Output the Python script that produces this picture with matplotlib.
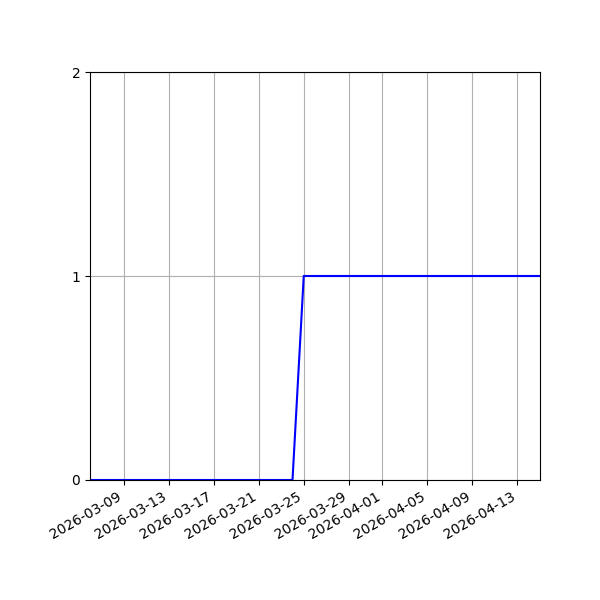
import numpy as np
import pandas as pd
import matplotlib
matplotlib.use('Agg')
from matplotlib import pyplot as plt

# Daily series: zero until 2026-03-24, one from 2026-03-25 onwards
dates = pd.date_range('2026-03-06', '2026-04-15', freq='D')
values = [0] * 19 + [1] * 22

fig, ax = plt.subplots(figsize=(6, 6), dpi=100)
ax.plot(dates, values, 'b-')

ax.set_xlim(dates[0], dates[-1])
ax.set_ylim(0, 2)
ax.set_yticks([0, 1, 2])
ax.grid(True)

fig.autofmt_xdate()
fig.subplots_adjust(left=0.15, right=0.9, top=0.88, bottom=0.2)
fig.savefig('out.png')
